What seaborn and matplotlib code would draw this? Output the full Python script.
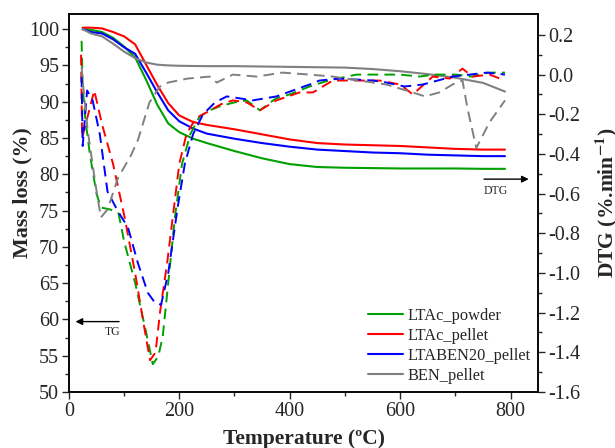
import numpy as np
import pandas as pd
import matplotlib
matplotlib.use("Agg")
import matplotlib.pyplot as plt
import seaborn as sns

# TG curves (mass loss, %), shared temperature grid
tg_temp = [25, 40, 60, 80, 100, 120, 140, 160, 180, 200, 225, 250, 300, 350,
           400, 450, 500, 550, 600, 650, 700, 750, 790]
tg_powder = [100.0, 99.9, 99.6, 98.8, 97.6, 96.1, 93.0, 89.6, 87.0, 85.8, 84.9, 84.3,
             83.2, 82.2, 81.4, 81.0, 80.9, 80.85, 80.8, 80.8, 80.8, 80.75, 80.75]
tg_pellet = [100.2, 100.2, 100.1, 99.6, 99.0, 97.9, 95.1, 92.3, 89.8, 88.1, 87.2, 86.8,
             86.2, 85.5, 84.8, 84.3, 84.1, 84.0, 83.9, 83.7, 83.5, 83.4, 83.4]
tg_ben20 = [100.0, 99.6, 99.4, 98.6, 97.5, 96.6, 94.0, 91.3, 88.8, 87.3, 86.3, 85.6,
            84.9, 84.3, 83.8, 83.4, 83.2, 83.0, 82.9, 82.7, 82.6, 82.5, 82.5]
tg_ben = [100.0, 99.4, 99.0, 98.0, 96.9, 96.0, 95.4, 95.1, 95.0, 94.95, 94.92, 94.9,
          94.9, 94.85, 94.8, 94.75, 94.7, 94.5, 94.2, 93.8, 93.3, 92.6, 91.4]

# DTG curves (%/min), each with its own temperatures
dtg_powder_t = [23, 25, 30, 38, 50, 58, 75, 90, 100, 120, 140, 152, 162, 170, 180, 192,
                205, 220, 237, 255, 273, 300, 322, 346, 375, 400, 436, 470, 521, 568,
                600, 635, 662, 702, 730, 760, 790]
dtg_powder = [0.17, -0.06, -0.23, -0.40, -0.60, -0.67, -0.68, -0.70, -0.84, -1.05, -1.30,
              -1.46, -1.42, -1.32, -1.05, -0.72, -0.45, -0.30, -0.21, -0.18, -0.16, -0.14,
              -0.13, -0.18, -0.12, -0.10, -0.06, -0.03, 0.0, 0.0, 0.0, -0.01, 0.0, 0.0,
              -0.01, 0.01, 0.01]
dtg_pellet_t = [22, 24, 46, 60, 80, 101, 120, 135, 147, 157, 165, 178, 189, 200, 213, 230,
                250, 275, 297, 322, 346, 376, 418, 442, 478, 514, 563, 600, 623, 659, 690,
                713, 731, 762, 790]
dtg_pellet = [0.10, -0.32, -0.08, -0.25, -0.45, -0.72, -1.00, -1.25, -1.44, -1.40, -1.20,
              -0.95, -0.70, -0.45, -0.30, -0.22, -0.19, -0.15, -0.13, -0.14, -0.18, -0.13,
              -0.09, -0.09, -0.03, -0.03, -0.03, -0.05, -0.10, -0.01, -0.02, 0.03, -0.01,
              0.0, -0.03]
dtg_ben20_t = [23, 25, 33, 43, 56, 70, 89, 107, 125, 143, 156, 167, 180, 197, 210, 225,
               243, 265, 286, 310, 333, 376, 436, 454, 490, 551, 575, 608, 641, 668, 695,
               726, 757, 790]
dtg_ben20 = [-0.01, -0.36, -0.08, -0.13, -0.30, -0.59, -0.69, -0.77, -0.95, -1.10, -1.15,
             -1.16, -1.00, -0.67, -0.45, -0.30, -0.20, -0.14, -0.11, -0.12, -0.13, -0.11,
             -0.05, -0.03, -0.02, -0.03, -0.04, -0.06, -0.05, -0.03, -0.01, 0.0, 0.01, 0.0]
dtg_ben_t = [23, 25, 34, 48, 58, 70, 89, 112, 125, 146, 165, 180, 215, 255, 268, 297, 340,
             387, 436, 478, 526, 575, 623, 645, 671, 695, 713, 722, 738, 762, 790]
dtg_ben = [0.04, -0.03, -0.28, -0.55, -0.72, -0.68, -0.52, -0.41, -0.33, -0.14, -0.06,
           -0.04, -0.02, -0.01, -0.04, 0.0, -0.01, 0.01, 0.0, -0.01, -0.03, -0.05, -0.09,
           -0.11, -0.09, -0.05, -0.03, -0.17, -0.37, -0.24, -0.13]

labels = ["LTAc_powder", "LTAc_pellet", "LTABEN20_pellet", "BEN_pellet"]
colors = ["#00a000", "#ff0000", "#0000ff", "#808080"]

dtg_ticks = [-1.6, -1.4, -1.2, -1.0, -0.8, -0.6, -0.4, -0.2, 0.0, 0.2]

sns.set_style("ticks")
plt.rcParams["font.family"] = ["Liberation Serif", "DejaVu Serif"]
plt.rcParams["mathtext.fontset"] = "stix"
plt.rcParams["axes.unicode_minus"] = False

fig = plt.figure(figsize=(6.15, 4.48), dpi=100)
ax = fig.add_axes([0.112, 0.125, 0.763, 0.844])
ax2 = ax.twinx()

tg_series = [tg_powder, tg_pellet, tg_ben20, tg_ben]
dtg_series = [(dtg_powder_t, dtg_powder), (dtg_pellet_t, dtg_pellet),
              (dtg_ben20_t, dtg_ben20), (dtg_ben_t, dtg_ben)]

for vals, lab, col in zip(tg_series, labels, colors):
    sns.lineplot(x=tg_temp, y=vals, ax=ax, color=col, label=lab, lw=1.5)

# DTG as dashed lines through seaborn's style mapping
for (t, v), col in zip(dtg_series, colors):
    sns.lineplot(x=t, y=v, ax=ax2, color=col, lw=1.4, legend=False,
                 style=["dtg"] * len(t), dashes={"dtg": (5.5, 3.2)})

ax.set_xlim(0, 850)
ax.set_ylim(50, 102.1)
ax2.set_ylim(-1.6, 0.306)

ax.set_xticks([0, 200, 400, 600, 800])
ax.set_xticks([100, 300, 500, 700], minor=True)
ax.set_yticks(np.arange(50, 101, 5))
ax.set_yticks(np.arange(52.5, 101, 5), minor=True)
ax2.set_yticks(dtg_ticks)
ax2.set_yticks([-1.5, -1.3, -1.1, -0.9, -0.7, -0.5, -0.3, -0.1, 0.1], minor=True)
ax2.set_yticklabels([f"{v:.1f}" for v in dtg_ticks])

for a in (ax, ax2):
    a.tick_params(axis="both", which="major", direction="out", length=5, width=1,
                  labelsize=14.5, pad=2)
    a.tick_params(axis="both", which="minor", direction="out", length=3, width=1)
    for s in a.spines.values():
        s.set_linewidth(1.1)
        s.set_color("black")

ax.set_xlabel("Temperature (ºC)", fontsize=15.5, fontweight="bold")
ax.xaxis.set_label_coords(0.5, -0.098)
ax.set_ylabel("Mass loss (%)", fontsize=15.8, fontweight="bold")
ax.yaxis.set_label_coords(-0.078, 0.528)
ax2.set_ylabel(r"DTG (%.min$^{\mathbf{-1}}$)", fontsize=15.5, fontweight="bold",
               labelpad=9)

# TG / DTG arrows
ax.annotate("", xy=(7, 59.7), xytext=(96, 59.7),
            arrowprops=dict(arrowstyle="-|>", color="black", lw=1))
ax.text(80, 58.3, "TG", fontsize=8.5, ha="center", va="center")
ax2.annotate("", xy=(838, -0.527), xytext=(747, -0.527),
             arrowprops=dict(arrowstyle="-|>", color="black", lw=1))
ax2.text(773, -0.585, "DTG", fontsize=8.5, ha="center", va="center")

ax.legend(loc="lower right", bbox_to_anchor=(1.013, -0.013), frameon=False,
          fontsize=11.8, handlelength=2.15, handletextpad=0.3, labelspacing=0.25,
          borderaxespad=0.4)

fig.savefig("out.png", dpi=100)
